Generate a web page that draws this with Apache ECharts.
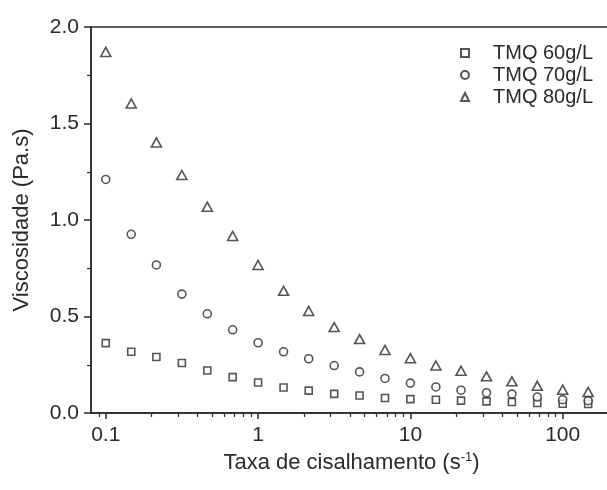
<!DOCTYPE html>
<html>
<head>
<meta charset="utf-8">
<script src="https://cdn.jsdelivr.net/npm/echarts@6/dist/echarts.min.js"></script>
<style>html,body{margin:0;padding:0;background:#fff;overflow:hidden;width:607px;height:490px}#c{width:720px;height:490px}</style>
</head>
<body>
<div id="c"></div>
<script>
// Shear rate (s^-1)
var shearRate = [0.1, 0.147, 0.215, 0.316, 0.464, 0.681, 1, 1.47, 2.15, 3.16, 4.64, 6.81, 10, 14.7, 21.5, 31.6, 46.4, 68.1, 100, 147, 215];
// Viscosity (Pa.s)
var tmq60 = [0.362, 0.317, 0.290, 0.259, 0.220, 0.186, 0.158, 0.132, 0.116, 0.099, 0.091, 0.078, 0.072, 0.069, 0.064, 0.060, 0.057, 0.052, 0.048, 0.047, 0.045];
var tmq70 = [1.21, 0.926, 0.767, 0.616, 0.514, 0.431, 0.364, 0.317, 0.281, 0.246, 0.213, 0.179, 0.155, 0.135, 0.118, 0.105, 0.098, 0.083, 0.069, 0.064, 0.060];
var tmq80 = [1.871, 1.604, 1.402, 1.233, 1.069, 0.917, 0.767, 0.633, 0.529, 0.445, 0.383, 0.327, 0.284, 0.246, 0.219, 0.190, 0.164, 0.141, 0.121, 0.109, 0.085];
var seriesNames = ['TMQ 60g/L', 'TMQ 70g/L', 'TMQ 80g/L'];
var xMajorTicks = [0.1, 1, 10, 100];
var xMinorTicks = [0.09, 0.2, 0.3, 0.4, 0.5, 0.6, 0.7, 0.8, 0.9, 2, 3, 4, 5, 6, 7, 8, 9, 20, 30, 40, 50, 60, 70, 80, 90, 200, 300];

function pairs(ys) { return shearRate.map(function (x, i) { return [x, ys[i]]; }); }

var ink = '#2a2a2a';
var font = 'Liberation Sans, Arial, sans-serif';
var chart = echarts.init(document.getElementById('c'));
var symStyle = { color: '#ffffff', borderColor: ink, borderWidth: 1.6 };

chart.setOption({
  animation: false,
  backgroundColor: '#ffffff',
  grid: { left: 91, top: 27, bottom: 77, right: 5, show: true, borderColor: ink, borderWidth: 1.5, backgroundColor: 'transparent' },
  legend: {
    orient: 'vertical', left: 455, top: 38, itemGap: 2,
    itemWidth: 8, itemHeight: 8,
    textStyle: { fontFamily: font, fontSize: 20, color: ink, padding: [0, 0, 0, 19] },
    data: seriesNames
  },
  xAxis: [{
    type: 'log', min: 0.08, max: 1000, logBase: 10,
    position: 'bottom',
    name: 'Taxa de cisalhamento (s{sup|-1})',
    nameLocation: 'middle', nameGap: 38,
    nameTextStyle: {
      fontFamily: font, fontSize: 22, color: ink, padding: [0, 103, 0, 0],
      rich: { sup: { fontFamily: font, fontSize: 13, color: ink, padding: [0, 0, 11, 0] } }
    },
    axisLine: { show: true, onZero: false, lineStyle: { color: ink, width: 1.5 } },
    axisTick: { show: true, inside: false, length: 6, lineStyle: { color: ink, width: 1.5 }, customValues: xMajorTicks },
    axisLabel: { show: true, fontFamily: font, fontSize: 21, color: ink, margin: 12, customValues: xMajorTicks,
      formatter: function (v) { return String(v); } },
    splitLine: { show: false },
    minorTick: { show: false }
  }, {
    type: 'log', min: 0.08, max: 1000, logBase: 10,
    position: 'bottom', gridIndex: 0,
    axisLine: { show: false },
    axisTick: { show: true, inside: false, length: 4, lineStyle: { color: ink, width: 1.2 }, customValues: xMinorTicks },
    axisLabel: { show: false },
    splitLine: { show: false }
  }],
  yAxis: {
    type: 'value', min: 0, max: 2, interval: 0.5,
    name: 'Viscosidade (Pa.s)', nameLocation: 'middle', nameGap: 58,
    nameTextStyle: { fontFamily: font, fontSize: 22, color: ink },
    axisLine: { show: true, onZero: false, lineStyle: { color: ink, width: 1.5 } },
    axisTick: { show: true, inside: false, length: 7, lineStyle: { color: ink, width: 1.5 } },
    minorTick: { show: true, splitNumber: 2, length: 4, lineStyle: { color: ink, width: 1.2 } },
    axisLabel: { fontFamily: font, fontSize: 21, color: ink, margin: 12, formatter: function (v) { return v.toFixed(1); } },
    splitLine: { show: false }
  },
  series: [
    { name: seriesNames[0], type: 'scatter', symbol: 'rect', symbolSize: 7, itemStyle: symStyle, data: pairs(tmq60) },
    { name: seriesNames[1], type: 'scatter', symbol: 'circle', symbolSize: 8, itemStyle: symStyle, data: pairs(tmq70) },
    { name: seriesNames[2], type: 'scatter', symbol: 'triangle', symbolSize: [10, 9], itemStyle: symStyle, data: pairs(tmq80) }
  ]
});
</script>
</body>
</html>
